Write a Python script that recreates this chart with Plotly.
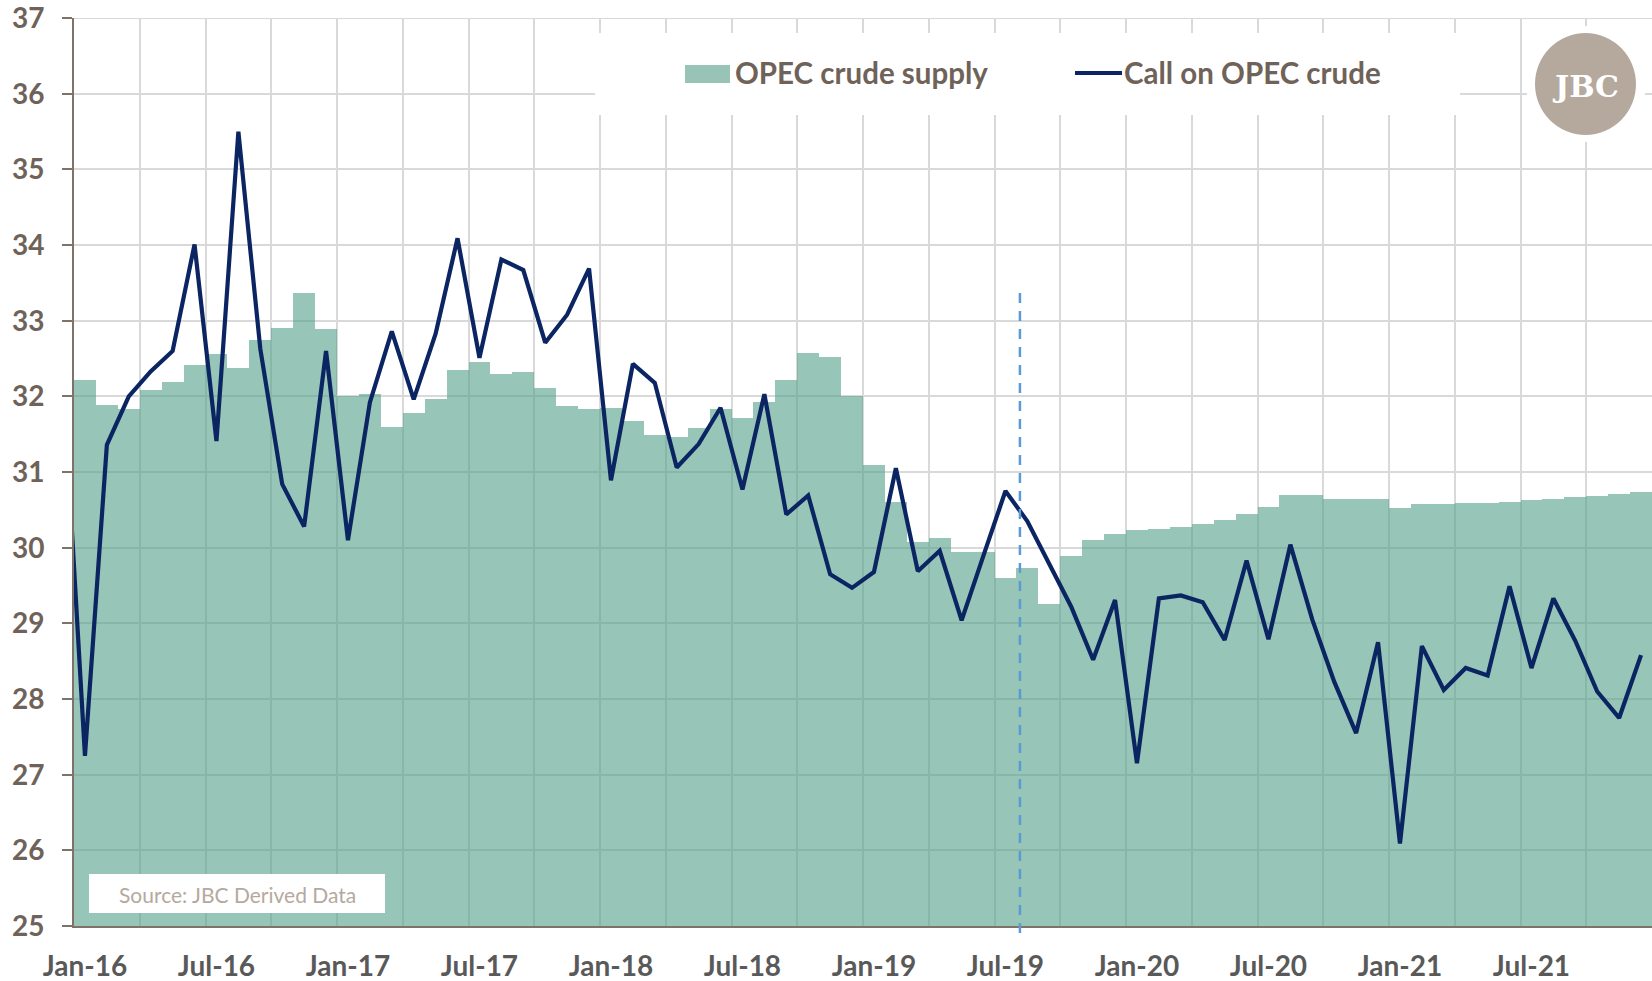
import pandas as pd
import plotly.graph_objects as go

# ---------------- data ----------------
# monthly categories Dec-15 .. Dec-21 (Dec-15 only carries the line's entry point, outside the visible range)
months = pd.date_range("2015-12-01", "2021-12-01", freq="MS")
month_labels = [m.strftime("%b-%y") for m in months]

# OPEC crude supply (mb/d), Jan-16 .. Dec-21
opec_supply = [
    32.22, 31.89, 31.84, 32.09, 32.19, 32.42, 32.56, 32.37, 32.74, 32.90, 33.37, 32.89,
    32.00, 32.03, 31.59, 31.78, 31.96, 32.35, 32.46, 32.29, 32.32, 32.11, 31.88, 31.84,
    31.85, 31.67, 31.49, 31.47, 31.58, 31.84, 31.71, 31.92, 32.22, 32.58, 32.52, 32.00,
    31.10, 30.61, 30.07, 30.13, 29.94, 29.94, 29.60, 29.73, 29.26, 29.89, 30.10, 30.18,
    30.23, 30.25, 30.28, 30.32, 30.37, 30.45, 30.54, 30.70, 30.70, 30.64, 30.64, 30.64,
    30.53, 30.58, 30.58, 30.59, 30.59, 30.60, 30.63, 30.65, 30.67, 30.69, 30.71, 30.74,
]

# Call on OPEC crude (mb/d), Dec-15 .. Dec-21
call_on_opec = [
    32.25,
    27.25, 31.36, 32.00, 32.33, 32.60, 34.01, 31.41, 35.50, 32.63, 30.84, 30.28, 32.60,
    30.10, 31.92, 32.86, 31.96, 32.83, 34.09, 32.51, 33.81, 33.67, 32.71, 33.08, 33.69,
    30.89, 32.43, 32.18, 31.06, 31.37, 31.85, 30.77, 32.03, 30.44, 30.69, 29.65, 29.47,
    29.68, 31.05, 29.69, 29.96, 29.04, 29.90, 30.75, 30.35, 29.78, 29.22, 28.52, 29.31,
    27.15, 29.33, 29.37, 29.28, 28.78, 29.83, 28.79, 30.04, 29.05, 28.23, 27.55, 28.75,
    26.09, 28.70, 28.12, 28.41, 28.31, 29.49, 28.41, 29.33, 28.77, 28.10, 27.75, 28.58,
]

y_ticks = [25, 26, 27, 28, 29, 30, 31, 32, 33, 34, 35, 36, 37]

forecast_start = 42.66   # marker position (between Jul-19 and Aug-19)
forecast_top = 33.39

# ---------------- positions ----------------
x_all = list(range(-1, len(months) - 1))          # Dec-15 = -1, Jan-16 = 0 ...
x_supply = x_all[1:]
tick_vals = [x for x, m in zip(x_all, months) if x >= 0 and m.month in (1, 7)]
tick_text = [month_labels[x + 1] for x in tick_vals]
minor_grid = [x + 0.5 for x in x_supply if (x + 1) % 3 == 0 and x < x_supply[-1] - 1]

W, H = 1652, 981
L, R, T, B = 74, 1652, 18, 926


def px(xp):
    return (xp - L) / (R - L)


def py(yp):
    return (B - yp) / (B - T)


BROWN = "#6F6259"
AXIS = "#7F7269"
NAVY = "#0B2462"
BAR_FILL = "rgba(82,158,135,0.6)"
BAR_SOLID = "#97C4B6"
GRID = "#D9D9D9"

fig = go.Figure()
fig.add_trace(go.Bar(
    x=x_supply, y=opec_supply, width=1,
    marker=dict(color=BAR_FILL, line=dict(width=0)),
    name="OPEC crude supply", showlegend=False, hoverinfo="x+y",
))
fig.add_trace(go.Scatter(
    x=x_all, y=call_on_opec, mode="lines",
    line=dict(color=NAVY, width=4.2),
    name="Call on OPEC crude", showlegend=False,
))

shapes = []
# top gridline (plotly drops the gridline at the range end)
shapes.append(dict(type="line", xref="paper", yref="y", x0=0, x1=1,
                   y0=y_ticks[-1], y1=y_ticks[-1],
                   line=dict(color=GRID, width=1.5), layer="below"))
# forecast marker
shapes.append(dict(type="line", xref="x", yref="paper",
                   x0=forecast_start, x1=forecast_start,
                   y0=py(933), y1=(forecast_top - 25) / 12,
                   line=dict(color="#5B9BD5", width=2.5, dash="10px,8px"), layer="above"))
# legend box
shapes.append(dict(type="rect", xref="paper", yref="paper",
                   x0=px(595), x1=px(1460), y0=py(115), y1=py(33),
                   fillcolor="white", line=dict(width=0), layer="above"))
shapes.append(dict(type="rect", xref="paper", yref="paper",
                   x0=px(685), x1=px(730), y0=py(83), y1=py(65),
                   fillcolor=BAR_SOLID, line=dict(width=0), layer="above"))
shapes.append(dict(type="line", xref="paper", yref="paper",
                   x0=px(1075), x1=px(1122), y0=py(73), y1=py(73),
                   line=dict(color=NAVY, width=4), layer="above"))
# logo
shapes.append(dict(type="rect", xref="paper", yref="paper",
                   x0=px(1527), x1=px(1645), y0=py(142), y1=py(26),
                   fillcolor="white", line=dict(width=0), layer="above"))
shapes.append(dict(type="circle", xref="paper", yref="paper",
                   x0=px(1535), x1=px(1636), y0=py(135), y1=py(33),
                   fillcolor="#B5A99E", line=dict(width=0), layer="above"))
# source box
shapes.append(dict(type="rect", xref="paper", yref="paper",
                   x0=px(89), x1=px(385), y0=py(913), y1=py(874),
                   fillcolor="white", line=dict(width=0), layer="above"))

annotations = [
    dict(text="OPEC crude supply", xref="paper", yref="paper", x=px(733), y=py(73),
         xanchor="left", yanchor="middle", showarrow=False,
         font=dict(family="Lato", size=29.5, color=BROWN, weight="bold")),
    dict(text="Call on OPEC crude", xref="paper", yref="paper", x=px(1122), y=py(73),
         xanchor="left", yanchor="middle", showarrow=False,
         font=dict(family="Lato", size=29.5, color=BROWN, weight="bold")),
    dict(text="JBC", xref="paper", yref="paper", x=px(1585), y=py(86),
         xanchor="center", yanchor="middle", showarrow=False,
         font=dict(family="DejaVu Serif", size=30, color="white", weight="bold")),
    dict(text="Source: JBC Derived Data", xref="paper", yref="paper", x=px(237), y=py(894),
         xanchor="center", yanchor="middle", showarrow=False,
         font=dict(family="Lato", size=21, color="#B5A99E")),
]

fig.update_layout(
    width=W, height=H,
    margin=dict(l=L, r=W - R, t=T, b=H - B),
    paper_bgcolor="white", plot_bgcolor="white",
    bargap=0, showlegend=False,
    shapes=shapes, annotations=annotations,
    font=dict(family="Lato"),
)
fig.update_xaxes(
    range=[-0.5, len(x_supply) - 0.5],
    tickmode="array", tickvals=tick_vals, ticktext=tick_text,
    showgrid=False, zeroline=False,
    showline=True, linecolor=AXIS, linewidth=2,
    ticks="", ticklabelstandoff=14, ticklabeloverflow="allow",
    tickfont=dict(family="Lato", size=28, color="#595959", weight="bold"),
    minor=dict(tickvals=minor_grid, showgrid=True, gridcolor=GRID, gridwidth=1.5, ticks=""),
)
fig.update_yaxes(
    range=[y_ticks[0], y_ticks[-1] + 0.002],
    tickmode="array", tickvals=y_ticks,
    showgrid=True, gridcolor=GRID, gridwidth=1.5, zeroline=False,
    showline=True, linecolor=AXIS, linewidth=2,
    ticks="outside", ticklen=10, tickwidth=2, tickcolor=AXIS,
    ticklabelstandoff=12, ticklabeloverflow="allow",
    tickfont=dict(family="Lato", size=28, color=BROWN, weight="bold"),
)

fig.write_html(
    "out.html",
    config={"displayModeBar": False},
    post_script="document.body.style.margin='0';document.body.style.overflow='hidden';",
)
